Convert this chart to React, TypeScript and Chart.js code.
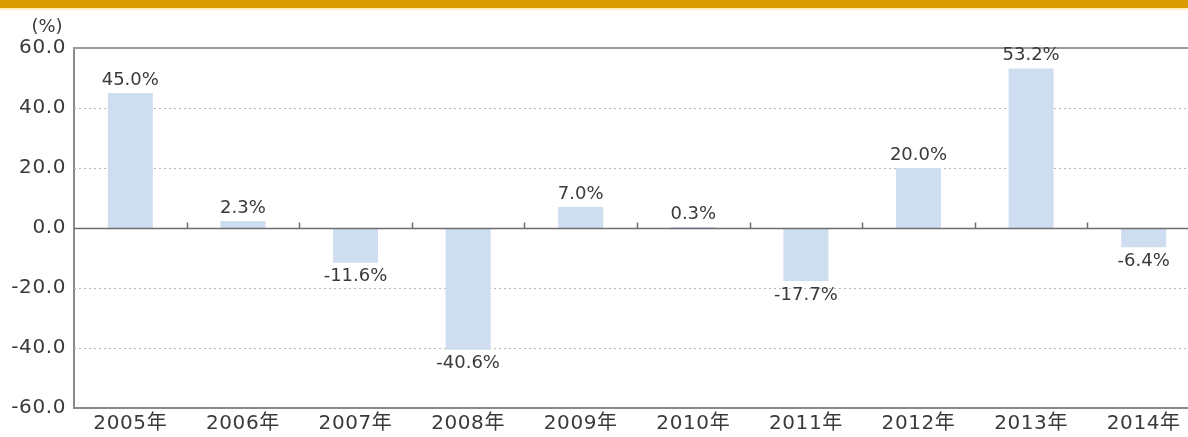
import React, { useEffect, useRef } from "react";
import { Chart, registerables } from "chart.js";

Chart.register(...registerables);

const categories = ["2005年", "2006年", "2007年", "2008年", "2009年", "2010年", "2011年", "2012年", "2013年", "2014年"];
const growth = [45.0, 2.3, -11.6, -40.6, 7.0, 0.3, -17.7, 20.0, 53.2, -6.4];
const valueLabels = ["45.0%", "2.3%", "-11.6%", "-40.6%", "7.0%", "0.3%", "-17.7%", "20.0%", "53.2%", "-6.4%"];
const yTicks = [-60, -40, -20, 0, 20, 40, 60];
const unitLabel = "(%)";

const FONT = "'DejaVu Sans', 'Noto Sans CJK JP', sans-serif";
const SPACING = "0.6px";

const decorPlugin = {
  id: "decor",
  beforeInit(chart: any) {
    chart.ctx.letterSpacing = SPACING;
  },
  beforeUpdate(chart: any) {
    chart.ctx.letterSpacing = SPACING;
  },
  beforeDraw(chart: any) {
    chart.ctx.letterSpacing = SPACING;
  },
  beforeDatasetsDraw(chart: any) {
    const { ctx, chartArea, scales } = chart;
    const y = scales.y;
    ctx.save();
    ctx.strokeStyle = "#b8b8b8";
    ctx.lineWidth = 1;
    ctx.setLineDash([2, 3]);
    yTicks.forEach((v) => {
      if (v === 0 || v === 60 || v === -60) return;
      const py = Math.round(y.getPixelForValue(v)) + 0.5;
      ctx.beginPath();
      ctx.moveTo(chartArea.left, py);
      ctx.lineTo(chartArea.right, py);
      ctx.stroke();
    });
    ctx.restore();
  },
  afterDatasetsDraw(chart: any) {
    const { ctx, chartArea, scales } = chart;
    const y = scales.y;
    const x = scales.x;
    ctx.save();
    ctx.letterSpacing = "0px";
    const zy = Math.round(y.getPixelForValue(0)) + 0.5;
    ctx.strokeStyle = "#6e6e6e";
    ctx.lineWidth = 1.5;
    ctx.beginPath();
    ctx.moveTo(chartArea.left, zy);
    ctx.lineTo(chartArea.right, zy);
    ctx.stroke();
    for (let i = 0; i < categories.length; i++) {
      const px = Math.round((x.getPixelForValue(i) + x.getPixelForValue(i + 1)) / 2) + 0.5;
      ctx.beginPath();
      ctx.moveTo(px, zy);
      ctx.lineTo(px, zy - 6);
      ctx.stroke();
    }
    ctx.strokeStyle = "#9a9a9a";
    ctx.lineWidth = 2;
    ctx.beginPath();
    ctx.moveTo(chartArea.left - 1, chartArea.top);
    ctx.lineTo(chartArea.right + 10, chartArea.top);
    ctx.stroke();
    ctx.fillStyle = "#3a3a3a";
    ctx.font = `18px ${FONT}`;
    ctx.textAlign = "center";
    ctx.textBaseline = "middle";
    const meta = chart.getDatasetMeta(0);
    meta.data.forEach((bar: any, i: number) => {
      const v = growth[i];
      const ly = v >= 0 ? bar.y - 13 : bar.y + 14;
      ctx.fillText(valueLabels[i], bar.x, ly);
    });
    ctx.font = `18px ${FONT}`;
    ctx.fillText(unitLabel, 47, 27);
    ctx.fillStyle = "#d99b00";
    ctx.fillRect(0, 0, chart.width, 8);
    const g = ctx.createLinearGradient(0, 8, 0, 12);
    g.addColorStop(0, "rgba(250,220,120,0.8)");
    g.addColorStop(1, "rgba(255,255,255,0)");
    ctx.fillStyle = g;
    ctx.fillRect(0, 8, chart.width, 4);
    ctx.restore();
  },
};

export default function App() {
  const ref = useRef<HTMLCanvasElement>(null);
  useEffect(() => {
    document.body.style.margin = "0";
    document.body.style.overflow = "hidden";
    const chart = new Chart(ref.current!, {
      type: "bar",
      data: {
        labels: categories,
        datasets: [
          {
            data: growth,
            backgroundColor: "#cfddf0",
            borderWidth: 0,
            barPercentage: 0.4,
            categoryPercentage: 1,
          },
        ],
      },
      options: {
        responsive: false,
        animation: false,
        maintainAspectRatio: false,
        layout: { padding: { top: 48, right: 0, left: 0, bottom: 0 } },
        plugins: { legend: { display: false }, tooltip: { enabled: false }, title: { display: false } },
        scales: {
          x: {
            grid: { display: false, drawTicks: false },
            border: { display: true, color: "#8a8a8a", width: 2 },
            ticks: { color: "#3a3a3a", font: { family: FONT, size: 20 }, padding: 4, maxRotation: 0 },
            afterFit(scale: any) {
              scale.height = 29;
            },
          },
          y: {
            min: -60,
            max: 60,
            afterBuildTicks(scale: any) {
              scale.ticks = yTicks.map((v) => ({ value: v }));
            },
            grid: { display: false, drawTicks: false },
            border: { display: true, color: "#8a8a8a", width: 2 },
            ticks: {
              color: "#3a3a3a",
              font: { family: FONT, size: 20 },
              padding: 8,
              callback: (v: any) => Number(v).toFixed(1),
            },
            afterFit(scale: any) {
              scale.width = 74;
            },
          },
        },
      },
      plugins: [decorPlugin],
    });
    return () => chart.destroy();
  }, []);
  return (
    <div style={{ position: "absolute", left: 0, top: 0, width: 1188, height: 437, overflow: "hidden", background: "#fff" }}>
      <canvas ref={ref} width={1200} height={437} style={{ display: "block" }} />
    </div>
  );
}
